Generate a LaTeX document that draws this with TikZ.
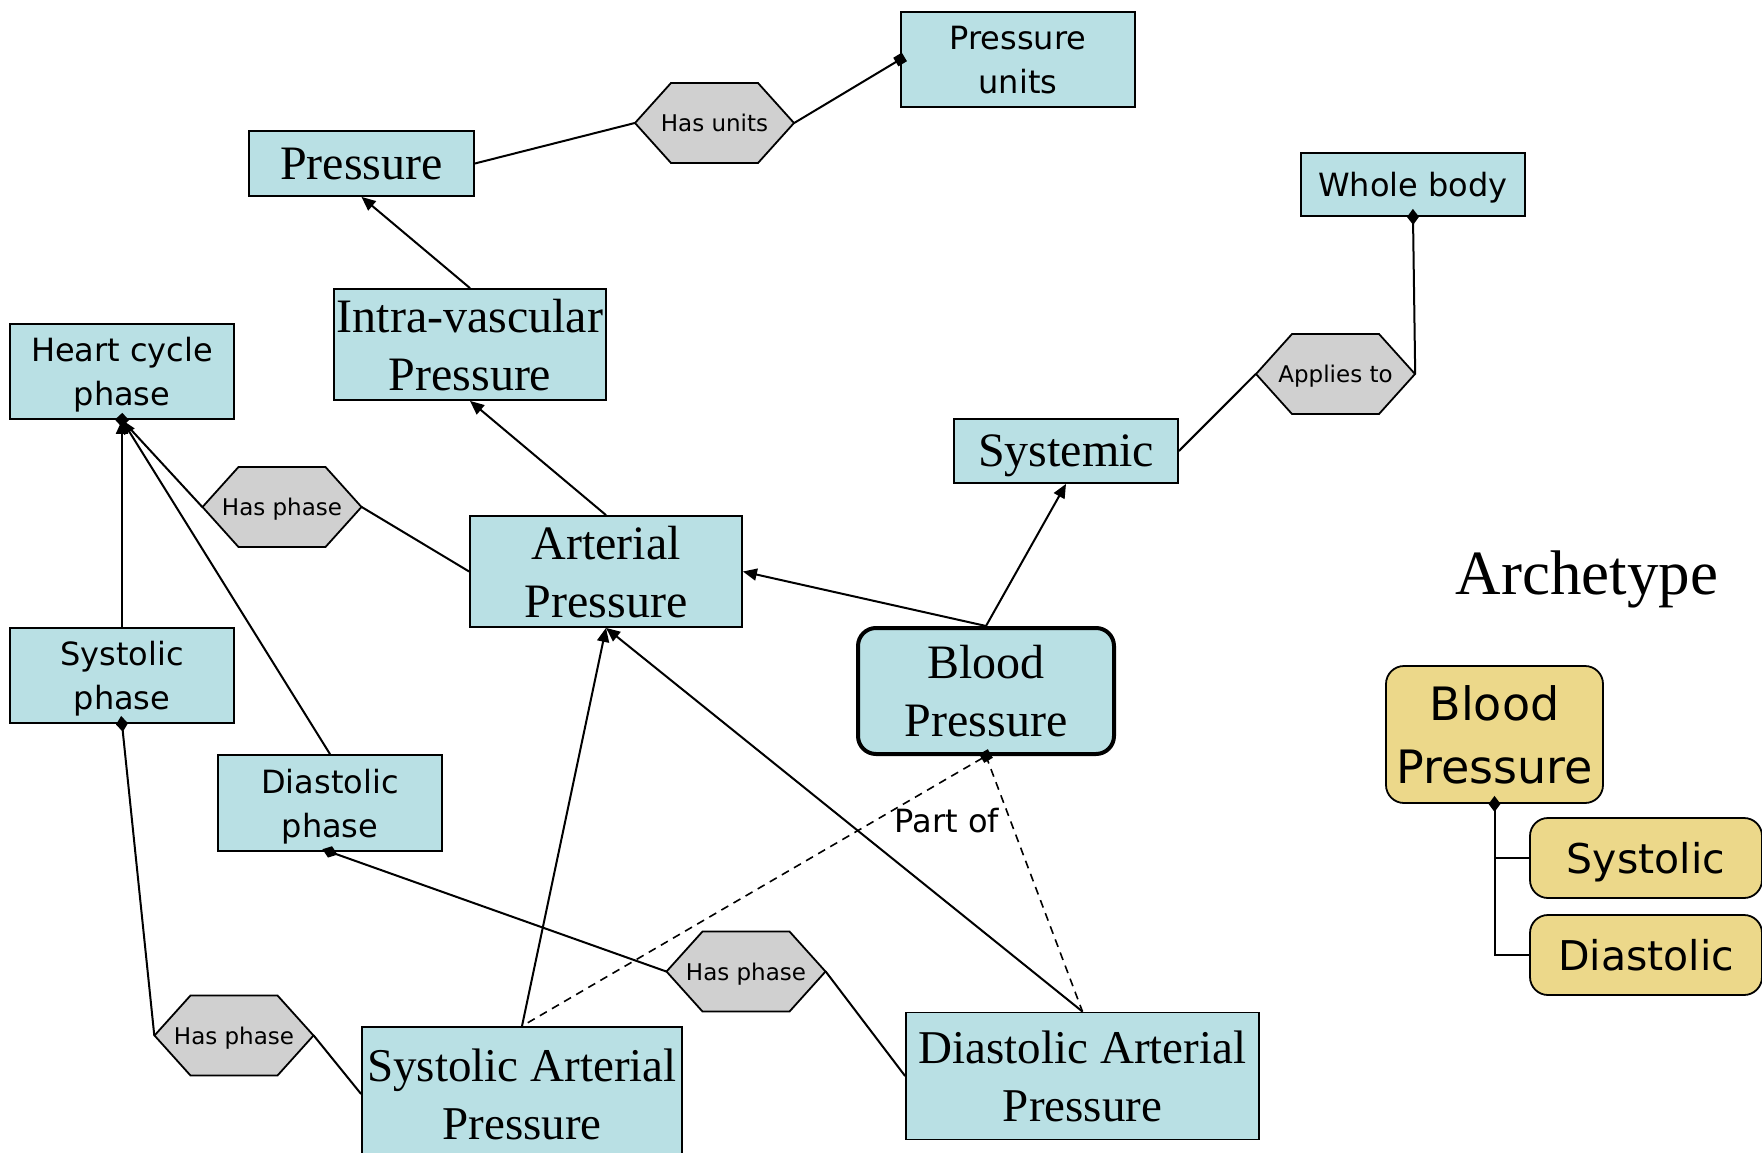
\documentclass[tikz,border=0pt]{standalone}
\usepackage{fontspec}
\setmainfont{Liberation Serif}
\setsansfont{DejaVu Sans}
\usetikzlibrary{arrows.meta}
\definecolor{boxblue}{RGB}{185,224,228}
\definecolor{relgray}{RGB}{208,208,208}
\definecolor{archyellow}{RGB}{236,216,138}
\newcommand{\serifbig}{\rmfamily\fontsize{48}{58}\selectfont}
\newcommand{\sansmid}{\sffamily\fontsize{32}{44}\selectfont}
\newcommand{\sanssmall}{\sffamily\fontsize{23}{28}\selectfont}
\newcommand{\relhex}[4]{%
  \filldraw[hexline] (#2-79.5,#3) -- (#2-43.5,#3-40) -- (#2+43.5,#3-40) -- (#2+79.5,#3)
    -- (#2+43.5,#3+40) -- (#2-43.5,#3+40) -- cycle;
  \node[relation] (#1) at (#2,#3) {#4};}

\begin{document}
\begin{tikzpicture}[x=1pt,y=-1pt,
  concept/.style={draw, line width=1.8pt, fill=boxblue, inner sep=0pt, align=center, text depth=0pt},
  hexline/.style={draw=black, fill=relgray, line width=1.8pt, line join=miter},
  relation/.style={minimum width=159pt, minimum height=80pt, inner sep=0pt, text depth=0pt, font=\sanssmall},
  archbox/.style={draw, line width=1.8pt, fill=archyellow, rounded corners=18pt, inner sep=0pt, align=center, text depth=0pt},
  link/.style={line width=2pt},
  isa/.style={link, -{Triangle[length=14pt,width=12pt]}},
  tosq/.style={link, -{Square[length=10pt,width=10pt]}, shorten >=-5pt},
  fromdia/.style={link, {Diamond[length=16pt,width=12pt]}-, shorten <=-8pt}]
\useasboundingbox (0,0) rectangle (1762,1153);
\node[concept, minimum width=234pt, minimum height=95pt, font=\sansmid] (punits) at (1018,59.5) {Pressure\\units};
\node[concept, minimum width=225pt, minimum height=65pt, font=\serifbig] (press) at (361.5,163.5) {Pressure};
\relhex{hasunits}{714.5}{123}{Has units}
\node[concept, minimum width=224pt, minimum height=63pt, font=\sansmid] (whole) at (1413,184.5) {Whole body};
\relhex{applies}{1335.5}{374}{Applies to}
\node[concept, minimum width=272pt, minimum height=111pt, font=\serifbig] (intra) at (470,344.5) {Intra-vascular\\Pressure};
\node[concept, minimum width=224pt, minimum height=95pt, font=\sansmid] (heart) at (122,371.5) {Heart cycle\\phase};
\relhex{hasph1}{282}{507}{Has phase}
\node[concept, minimum width=224pt, minimum height=64pt, font=\serifbig] (systemic) at (1066,451) {Systemic};
\node[concept, minimum width=272pt, minimum height=111pt, font=\serifbig] (arterial) at (606,571.5) {Arterial\\Pressure};
\node[concept, line width=4pt, rounded corners=18pt, minimum width=256pt, minimum height=126pt, font=\serifbig] (bp) at (986,691) {Blood\\Pressure};
\node[concept, minimum width=224pt, minimum height=95pt, font=\sansmid] (sysph) at (122,675.5) {Systolic\\phase};
\node[concept, minimum width=224pt, minimum height=96pt, font=\sansmid] (diaph) at (330,803) {Diastolic\\phase};
\relhex{hasph2}{746}{971.5}{Has phase}
\relhex{hasph3}{234}{1035.5}{Has phase}
\node[concept, minimum width=320pt, minimum height=134pt, font=\rmfamily\fontsize{47}{58}\selectfont] (sysart) at (522,1094) {Systolic Arterial\\Pressure};
\node[concept, minimum width=353pt, minimum height=127pt, font=\rmfamily\fontsize{47}{58}\selectfont] (diaart) at (1082.5,1076) {Diastolic Arterial\\Pressure};
\node[font=\sansmid] (partof) at (947,821) {Part of};
\node[font=\rmfamily\fontsize{63}{70}\selectfont] (archlabel) at (1587,579) {Archetype};
\node[archbox, minimum width=217pt, minimum height=137pt, font=\sffamily\fontsize{46}{63}\selectfont] (bpy) at (1494.5,734.5) {Blood\\Pressure};
\node[archbox, minimum width=232pt, minimum height=80pt, font=\sffamily\fontsize{41}{50}\selectfont] (sysy) at (1646,858) {Systolic};
\node[archbox, minimum width=232pt, minimum height=80pt, font=\sffamily\fontsize{41}{50}\selectfont] (diay) at (1646,955) {Diastolic};
\draw[link] (press.east) -- (hasunits.west);
\draw[tosq] (hasunits.east) -- (punits.west);
\draw[isa] (intra.north) -- (press.south);
\draw[isa] (arterial.north) -- (intra.south);
\draw[isa] (bp.north) -- (arterial.east);
\draw[isa] (bp.north) -- (systemic.south);
\draw[link] (systemic.east) -- (applies.west);
\draw[fromdia] (whole.south) -- (applies.east);
\draw[link] (arterial.west) -- (hasph1.east);
\draw[tosq] (hasph1.west) -- (heart.south);
\draw[isa] (sysph.north) -- (heart.south);
\draw[isa] (diaph.north) -- (heart.south);
\draw[fromdia] (sysph.south) -- (hasph3.west);
\draw[link] (hasph3.east) -- (sysart.west);
\draw[fromdia] (diaph.south) -- (hasph2.west);
\draw[link] (hasph2.east) -- (diaart.west);
\draw[isa] (sysart.north) -- (arterial.south);
\draw[isa] (diaart.north) -- (arterial.south);
\draw[link, line width=1.6pt, dash pattern=on 8pt off 6pt, {Square[length=10pt,width=10pt]}-, shorten <=-5pt] (bp.south) -- (sysart.north);
\draw[link, line width=1.6pt, dash pattern=on 8pt off 6pt] (bp.south) -- (diaart.north);
\draw[fromdia] (bpy.south) |- (sysy.west);
\draw[link] (bpy.south) |- (diay.west);
\end{tikzpicture}
\end{document}
